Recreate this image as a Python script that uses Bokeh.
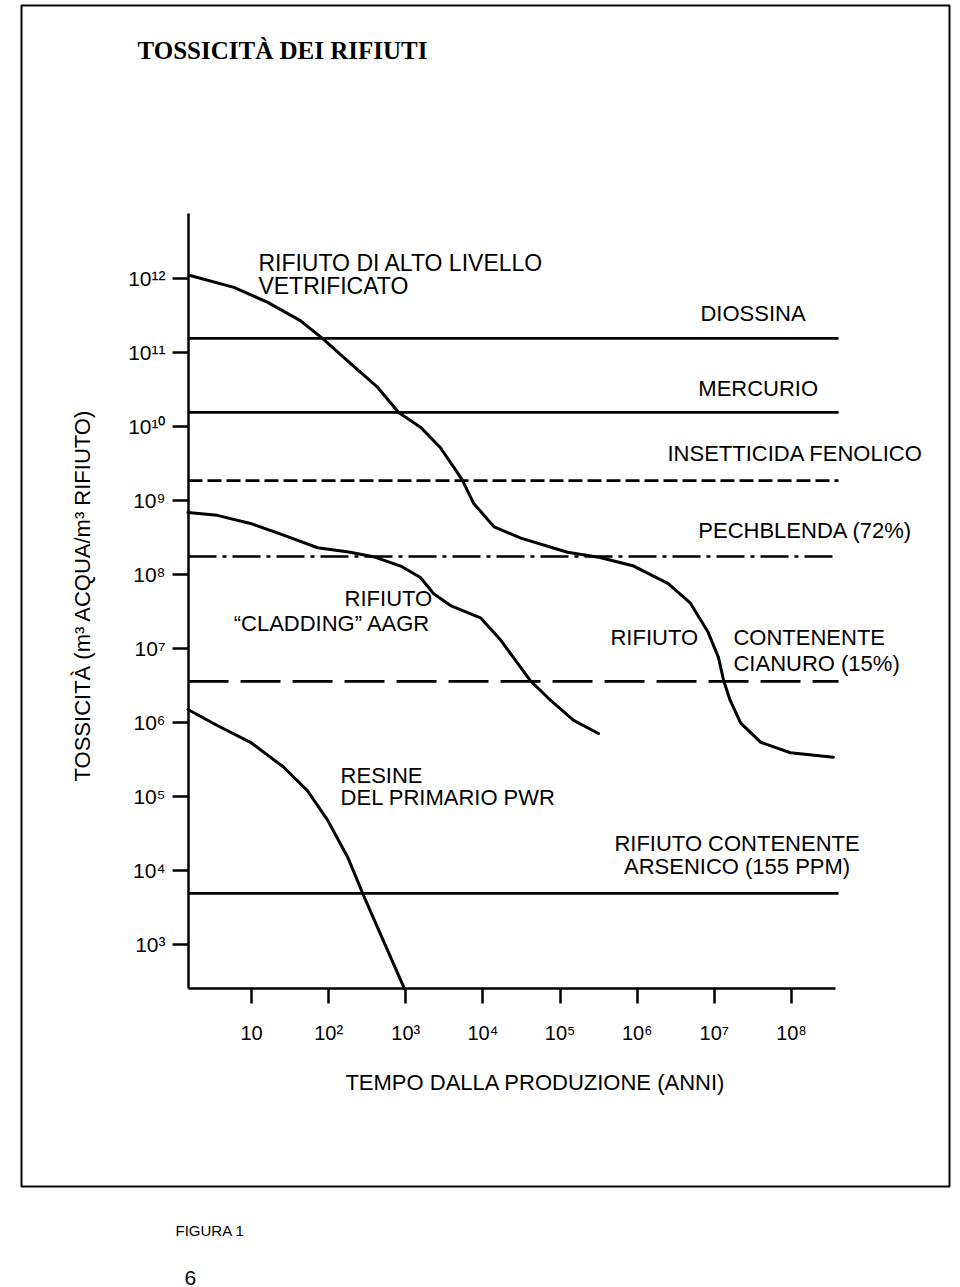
import math
from bokeh.plotting import figure
from bokeh.models import Range1d, FixedTicker, Label, BoxAnnotation
from bokeh.embed import file_html
from bokeh.resources import INLINE

# ------------------------------------------------------------------ data
x_ticks = [1e1, 1e2, 1e3, 1e4, 1e5, 1e6, 1e7, 1e8]
x_tick_labels = ["10", "10²", "10³", "10⁴", "10⁵", "10⁶", "10⁷", "10⁸"]
y_ticks = [1e3, 1e4, 1e5, 1e6, 1e7, 1e8, 1e9, 1e10, 1e11, 1e12]
y_tick_labels = ["10³", "10⁴", "10⁵", "10⁶", "10⁷", "10⁸", "10⁹", "10¹⁰", "10¹¹", "10¹²"]

# reference substances (horizontal levels, m3 water / m3 waste)
ref_names = ["DIOSSINA", "MERCURIO", "INSETTICIDA FENOLICO", "PECHBLENDA (72%)",
             "RIFIUTO CONTENENTE CIANURO (15%)", "RIFIUTO CONTENENTE ARSENICO (155 PPM)"]
ref_levels = [1.55e11, 1.55e10, 1.86e9, 1.75e8, 3.6e6, 4.9e3]

# high level vitrified waste
hlw_t = [1.6, 5.9, 16, 43, 83, 190, 430, 810, 1.55e3, 2.8e3, 4.2e3, 5.4e3, 7.6e3, 1.4e4,
         3.1e4, 1.25e5, 3.3e5, 9.0e5, 2.5e6, 4.9e6, 8.2e6, 1.13e7, 1.32e7, 1.6e7, 2.2e7,
         4.0e7, 9.7e7, 3.5e8]
hlw_v = [1.1e12, 7.6e11, 4.8e11, 2.7e11, 1.55e11, 7.2e10, 3.4e10, 1.55e10, 9.8e9, 5.2e9,
         2.8e9, 1.9e9, 9.1e8, 4.4e8, 3.1e8, 2.0e8, 1.7e8, 1.3e8, 7.6e7, 4.1e7, 1.7e7,
         7.6e6, 3.7e6, 2.0e6, 9.8e5, 5.4e5, 3.9e5, 3.4e5]

# AAGR cladding waste
clad_t = [1.5, 3.6, 9.7, 26, 72, 190, 380, 860, 1.55e3, 2.3e3, 3.8e3, 9.3e3, 1.7e4,
          3.1e4, 4.1e4, 7.5e4, 1.5e5, 3.15e5]
clad_v = [6.9e8, 6.3e8, 4.9e8, 3.4e8, 2.3e8, 2.0e8, 1.74e8, 1.3e8, 9.1e7, 5.5e7, 3.8e7,
          2.6e7, 1.3e7, 5.5e6, 3.7e6, 2.0e6, 1.07e6, 7.1e5]

# PWR primary resins
resin_t = [1.5, 3.6, 9.7, 26, 53, 97, 180, 300, 960]
resin_v = [1.5e6, 9.1e5, 5.4e5, 2.5e5, 1.2e5, 4.8e4, 1.45e4, 4.0e3, 254]

# ------------------------------------------------------------------ layout / styles
SANS = "Liberation Sans"
SERIF = "Liberation Serif"
ref_dash = ["solid", "solid", "14 5", "28 6 4 6", "40 12", "solid"]

W, H = 960, 1287
# axis extents (data units)
T_MIN, T_MAX, T_LINE_END = 10 ** 0.1833, 10 ** 8.571, 10 ** 8.61
V_MIN, V_MAX = 10 ** 2.4054, 10 ** 12.878

# the frame covers the whole canvas; axes are pinned at the data corner
p = figure(width=W, height=H, x_axis_type="log", y_axis_type="log",
           x_range=Range1d(10 ** -2.2538, 10 ** 10.1911),
           y_range=Range1d(10 ** -1.6351, 10 ** 15.7568),
           output_backend="svg", toolbar_location=None,
           min_border_left=0, min_border_right=0, min_border_top=0, min_border_bottom=0)
p.title.visible = False
p.background_fill_color = "white"
p.border_fill_color = "white"
p.outline_line_color = None
p.xgrid.visible = False
p.ygrid.visible = False

for ax, ticks, labels in ((p.xaxis, x_ticks, x_tick_labels), (p.yaxis, y_ticks, y_tick_labels)):
    ax.ticker = FixedTicker(ticks=ticks)
    ax.major_label_overrides = dict(zip(ticks, labels))
    ax.minor_tick_line_color = None
    ax.axis_line_width = 2.5
    ax.axis_line_color = "black"
    ax.major_tick_line_width = 2.5
    ax.major_tick_line_color = "black"
    ax.major_tick_in = 0
    ax.major_label_text_font = SANS
    ax.major_label_text_color = "black"
p.xaxis.fixed_location = V_MIN
p.xaxis.bounds = (T_MIN, T_MAX)
p.xaxis.major_tick_out = 15
p.xaxis.major_label_standoff = 18
p.xaxis.major_label_text_font_size = "20px"
p.yaxis.fixed_location = T_MIN
p.yaxis.bounds = (V_MIN, V_MAX)
p.yaxis.major_tick_out = 16
p.yaxis.major_label_standoff = 7
p.yaxis.major_label_text_font_size = "21px"

# reference levels
for lvl, dash in zip(ref_levels, ref_dash):
    p.line([T_MIN, T_LINE_END], [lvl, lvl], line_color="black", line_width=2.7,
           line_dash=dash)

# waste curves
for t, v in ((hlw_t, hlw_v), (clad_t, clad_v), (resin_t, resin_v)):
    p.line(t, v, line_color="black", line_width=3.0, line_join="round", line_cap="round")

# in-plot labels (data units)
data_labels = [
    ("RIFIUTO DI ALTO LIVELLO", 12.3, 1.6e12, "left", "23px"),
    ("VETRIFICATO", 12.3, 7.8e11, "left", "23px"),
    ("DIOSSINA", 6.6e6, 3.4e11, "left", "22px"),
    ("MERCURIO", 6.2e6, 3.3e10, "left", "22px"),
    ("INSETTICIDA FENOLICO", 2.47e6, 4.3e9, "left", "22px"),
    ("PECHBLENDA (72%)", 6.2e6, 3.9e8, "left", "22px"),
    ("RIFIUTO", 2.2e3, 4.7e7, "right", "22px"),
    ("\u201cCLADDING\u201d AAGR", 2.09e3, 2.2e7, "right", "22px"),
    ("RIFIUTO", 4.5e5, 1.41e7, "left", "22px"),
    ("CONTENENTE", 1.77e7, 1.41e7, "left", "22px"),
    ("CIANURO (15%)", 1.77e7, 6.3e6, "left", "22px"),
    ("RESINE", 143, 1.92e5, "left", "22px"),
    ("DEL PRIMARIO PWR", 143, 9.7e4, "left", "22px"),
    ("RIFIUTO CONTENENTE", 1.97e7, 2.3e4, "center", "22px"),
    ("ARSENICO (155 PPM)", 1.97e7, 1.13e4, "center", "22px"),
]
for txt, x, y, al, sz in data_labels:
    p.add_layout(Label(x=x, y=y, text=txt, text_align=al, text_baseline="middle",
                       text_font=SANS, text_font_size=sz, text_color="black"))

# page texts (canvas units)
canvas_labels = [
    dict(x=137, y=50, text="TOSSICITÀ DEI RIFIUTI", text_font=SERIF, text_font_style="bold",
         text_font_size="25px", text_align="left"),
    dict(x=535, y=1082, text="TEMPO DALLA PRODUZIONE (ANNI)", text_font=SANS,
         text_font_size="22px", text_align="center"),
    dict(x=82, y=595, text="TOSSICITÀ (m³ ACQUA/m³ RIFIUTO)", text_font=SANS,
         text_font_size="22px", text_align="center", angle=math.pi / 2),
    dict(x=175, y=1230, text="FIGURA 1", text_font=SANS, text_font_size="15px",
         text_align="left"),
    dict(x=184, y=1277, text="6", text_font=SANS, text_font_size="21px", text_align="left"),
]
for kw in canvas_labels:
    p.add_layout(Label(x_units="canvas", y_units="canvas", text_baseline="middle",
                       text_color="black", **kw))

# outer page frame
p.add_layout(BoxAnnotation(left=21, right=949, top=5, bottom=1186,
                           left_units="canvas", right_units="canvas",
                           top_units="canvas", bottom_units="canvas",
                           fill_alpha=0, line_color="black", line_alpha=1.0,
                           line_width=2))

open("out.html", "w").write(file_html(p, INLINE))
